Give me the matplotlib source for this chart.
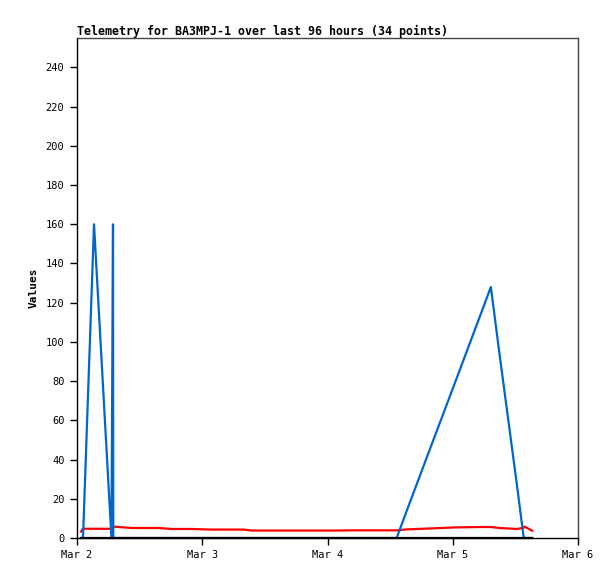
import matplotlib
matplotlib.use("Agg")
import matplotlib.pyplot as plt
import matplotlib.dates as mdates
from datetime import datetime, timedelta

start = datetime(2025, 3, 2)
# hours after Mar 2 00:00
hours = [0.77, 1.15, 3.26, 6.6, 6.9, 6.95, 10.56, 13.8, 15.7, 18.05, 21.9,
         25.7, 29.5, 32.0, 33.4, 37.2, 40.7, 42.6, 46.5, 49.3, 52.2, 55.1,
         58.0, 61.25, 63.2, 68.0, 72.4, 77.2, 79.3, 81.0, 84.3, 85.6, 85.8, 87.2]
series_blue = [0, 0, 160, 0, 160, 0, 0, 0, 0, 0, 0,
               0, 0, 0, 0, 0, 0, 0, 0, 0, 0, 0,
               0, 0, 14, 48, 79, 113, 128, 93, 27, 0, 0, 0]
series_red = [3.3, 4.7, 4.7, 4.7, 4.8, 5.8, 5.1, 5.1, 5.1, 4.6, 4.6,
              4.3, 4.3, 4.3, 3.8, 3.8, 3.8, 3.8, 3.8, 3.8, 3.9, 3.9,
              3.9, 3.9, 4.4, 4.9, 5.4, 5.6, 5.6, 5.1, 4.6, 5.2, 5.8, 3.7]
series_black = [0] * 34

times = [start + timedelta(hours=h) for h in hours]

fig = plt.figure(figsize=(6.15, 5.79), dpi=100)
ax = fig.add_axes([77/615, 41/579, 501/615, 500/579])

ax.plot(times, series_red, color="#ff0000", lw=1.6, zorder=2)
ax.plot(times, series_blue, color="#0066cc", lw=1.6, zorder=3)
ax.plot(times, series_black, color="black", lw=1.6, zorder=4, clip_on=False)

ax.set_xlim(start, start + timedelta(days=4))
ax.set_ylim(0, 255)
ax.set_yticks(range(0, 241, 20))
ax.xaxis.set_major_locator(mdates.DayLocator())
ax.xaxis.set_major_formatter(mdates.DateFormatter("%b %-d"))

mono = "DejaVu Sans Mono"
for lab in ax.get_xticklabels() + ax.get_yticklabels():
    lab.set_fontfamily(mono)
    lab.set_fontsize(7.5)
ax.tick_params(direction="out", length=5, width=1, color="black", pad=4)

for s in ("top", "right"):
    ax.spines[s].set_color("#444444")
    ax.spines[s].set_linewidth(1)
for s in ("left", "bottom"):
    ax.spines[s].set_color("black")
    ax.spines[s].set_linewidth(1)

ax.set_ylabel("Values", fontfamily=mono, fontweight="bold", fontsize=8, labelpad=5)
fig.text(77/615, 1 - 31/579, "Telemetry for BA3MPJ-1 over last 96 hours (34 points)",
         fontfamily=mono, fontweight="bold", fontsize=8.4, ha="left", va="center")

fig.savefig("out.png", dpi=100)
